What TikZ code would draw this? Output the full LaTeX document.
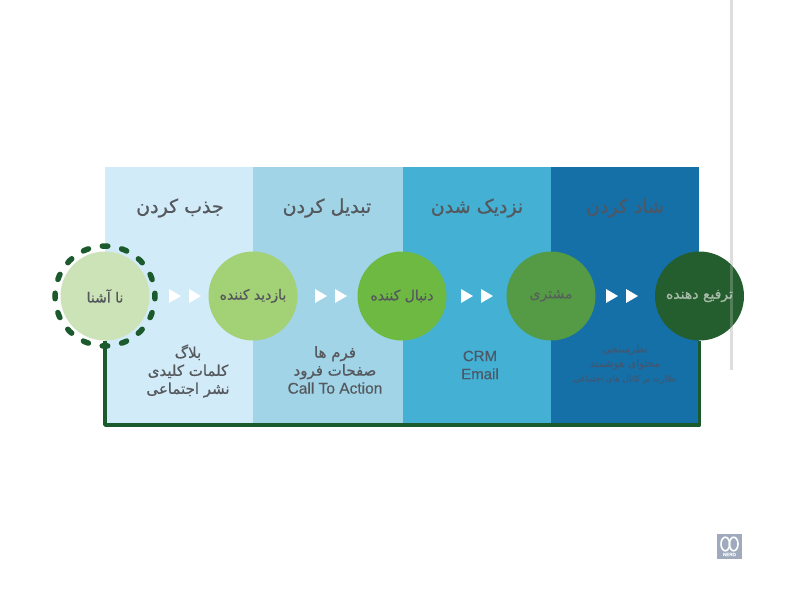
\documentclass[tikz,border=0pt]{standalone}
\usepackage{fontspec}
\setmainfont[FakeBold=0.4]{Liberation Sans}
\newfontfamily\arabicfont[Script=Arabic,FakeBold=0.8]{DejaVu Sans}
\TeXXeTstate=1
\newcommand{\fa}[1]{\beginR #1\endR}
\definecolor{panelA}{HTML}{D2EBF8}
\definecolor{panelB}{HTML}{A2D4E8}
\definecolor{panelC}{HTML}{43B0D4}
\definecolor{panelD}{HTML}{1570A8}
\definecolor{circA}{HTML}{CBE3B6}
\definecolor{circB}{HTML}{A3D175}
\definecolor{circC}{HTML}{6DB942}
\definecolor{circD}{HTML}{559A45}
\definecolor{circE}{HTML}{245E2E}
\definecolor{frameG}{HTML}{1B5A2C}
\definecolor{inkA}{HTML}{55585C}
\definecolor{inkB}{HTML}{4C5866}
\definecolor{inkC}{HTML}{3F5874}
\definecolor{inkD}{HTML}{A9BCAA}
\definecolor{logoC}{HTML}{9FABBD}
\definecolor{ruleC}{HTML}{DEDEDE}
\tikzset{
  panel/.style={minimum width=#1, minimum height=258pt, anchor=north west, inner sep=0pt, outer sep=0pt},
  stage/.style={circle, minimum size=89pt, inner sep=0pt, outer sep=0pt, font=\arabicfont\fontsize{14}{16}\selectfont, text=inkA},
  heading/.style={font=\arabicfont\fontsize{19}{22}\selectfont, text=inkA},
  listing/.style={align=center, font=\arabicfont\fontsize{15}{18}\selectfont, text=inkA, inner sep=0pt},
  pointer/.style={fill=white, draw=none},
  myframe/.style={draw=frameG, line width=3.4pt, line join=round},
  siderule/.style={draw=ruleC, line width=3pt},
}
\newcommand{\pair}[1]{%
  \fill[pointer] (#1+6,289) -- (#1+18,296) -- (#1+6,303) -- cycle;
  \fill[pointer] (#1+26,289) -- (#1+38,296) -- (#1+26,303) -- cycle;}
\begin{document}
\begin{tikzpicture}[x=1pt,y=-1pt]
\useasboundingbox (0,0) rectangle (800,600);
\fill[white] (0,0) rectangle (800,600);
% side rule
\draw[siderule] (731,0) -- (731,370);
% panels
\node[panel=148pt, fill=panelA] (pa) at (105,167) {};
\node[panel=150pt, fill=panelB] (pb) at (253,167) {};
\node[panel=148pt, fill=panelC] (pc) at (403,167) {};
\node[panel=148pt, fill=panelD] (pd) at (551,167) {};
% stages
\node[stage, fill=circA] (c1) at (105,296) {\fa{نا آشنا}};
\node[stage, fill=circB] (c2) at (253,296) {\fa{بازدید کننده}};
\node[stage, fill=circC] (c3) at (402,296) {\fa{دنبال کننده}};
\node[stage, fill=circD, text=inkA!80!circD] (c4) at (551,296) {\fa{مشتری}};
\node[stage, fill=circE, text=inkD] (c5) at (699.5,296) {\fa{ترفیع دهنده}};
\draw[siderule, opacity=.25] (731,264.5) -- (731,327.5);
% frame
\coordinate (fl) at (105,425);
\draw[myframe] (c1.south) -- (c1.south |- fl) -- (c5.south |- fl) -- (c5.south);
\draw[frameG, line width=5.5pt, line cap=round, dash pattern=on 5.5pt off 14.135pt, dash phase=2.75pt] (105,296) circle (50);
% pointers
\pair{163}
\pair{309}
\pair{455}
\pair{600}
% headings
\node[heading] (h1) at (180,208) {\fa{جذب کردن}};
\node[heading] (h2) at (327,208) {\fa{تبدیل کردن}};
\node[heading] (h3) at (477,208) {\fa{نزدیک شدن}};
\node[heading, text=inkB] (h4) at (625,208) {\fa{شاد کردن}};
% lists
\node[listing] (l1) at (188,371) {\fa{بلاگ}\\\fa{کلمات کلیدی}\\\fa{نشر اجتماعی}};
\node[listing] (l2) at (335,370) {\fa{فرم ها}\\\fa{صفحات فرود}\\{\fontsize{15.5}{18}\selectfont\rmfamily Call To Action}};
\node[listing, font=\fontsize{15}{18}\selectfont\rmfamily, text=inkB] (l3) at (480,365) {CRM\\Email};
\node[listing, text=inkC, font=\arabicfont\fontsize{10.5}{14.5}\selectfont] (l4) at (625,364) {\fa{نظرسنجی}\\\fa{محتوای هوشمند}\\{\fontsize{8.5}{14.5}\selectfont\fa{نظارت بر کانال های اجتماعی}}};
% logo
\node[fill=logoC, minimum size=25pt, inner sep=0pt, anchor=north west] (logo) at (717,534) {};
\draw[white, line width=1.6pt] (725.3,544) ellipse (4.3 and 6.8);
\draw[white, line width=1.6pt] (733.7,544) ellipse (4.3 and 6.8);
\node[font=\fontsize{4.5}{4.5}\selectfont, text=white, inner sep=0pt] (logot) at (729.5,554.5) {NERD};
\end{tikzpicture}
\end{document}
